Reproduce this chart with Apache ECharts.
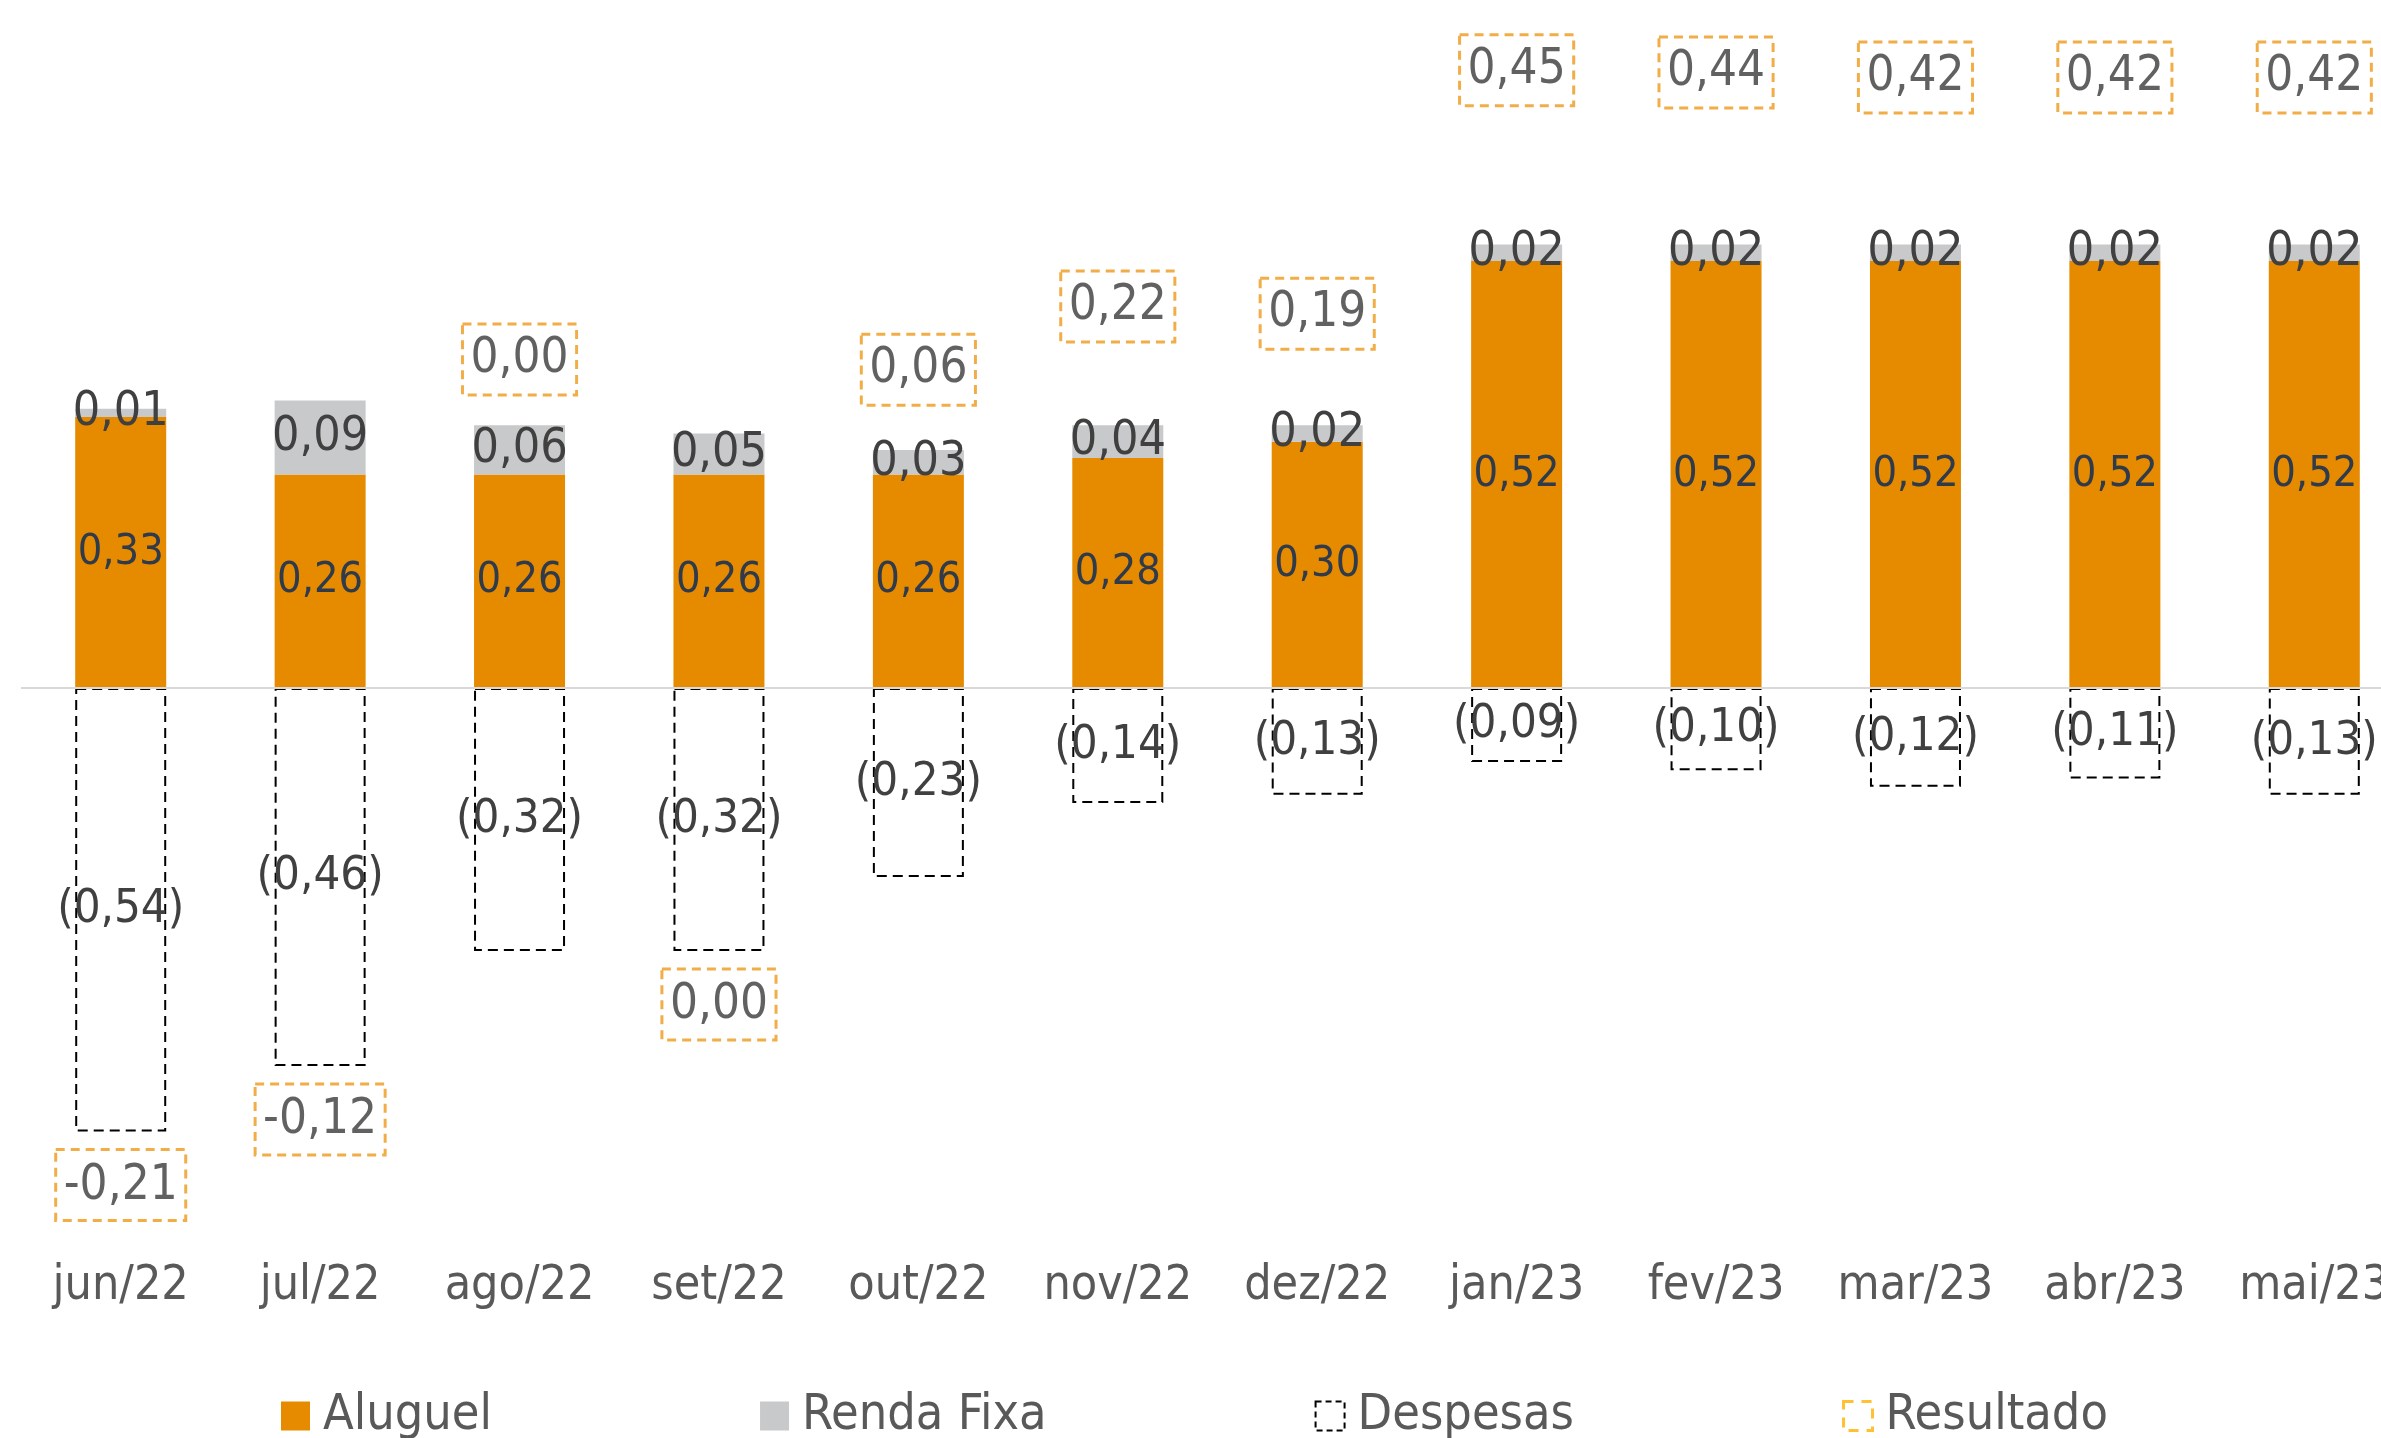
<!DOCTYPE html>
<html>
<head>
<meta charset="utf-8">
<script src="https://cdn.jsdelivr.net/npm/echarts@6/dist/echarts.min.js"></script>
<style>
  html, body { margin: 0; padding: 0; background: #fff; overflow: hidden; }
  /* the plot runs a bit past the right edge, like the original */
  #main { width: 2414px; height: 1438px; }
</style>
</head>
<body>
<div id="main"></div>
<script>
var months = ['jun/22', 'jul/22', 'ago/22', 'set/22', 'out/22', 'nov/22', 'dez/22', 'jan/23', 'fev/23', 'mar/23', 'abr/23', 'mai/23']
var aluguel = [0.33, 0.26, 0.26, 0.26, 0.26, 0.28, 0.30, 0.52, 0.52, 0.52, 0.52, 0.52]
var rendaFixa = [0.01, 0.09, 0.06, 0.05, 0.03, 0.04, 0.02, 0.02, 0.02, 0.02, 0.02, 0.02]
var despesas = [-0.54, -0.46, -0.32, -0.32, -0.23, -0.14, -0.13, -0.09, -0.10, -0.12, -0.11, -0.13]
// set/22 is a tiny negative that shows as 0,00 under the bar
var resultado = [-0.21, -0.12, 0.00, -0.004, 0.06, 0.22, 0.19, 0.45, 0.44, 0.42, 0.42, 0.42]

var font = '"DejaVu Sans Condensed", "DejaVu Sans", sans-serif'
var orange = '#E68A00'
var gray = '#C8C9CA'

var fmt = function (v) {
    var s = Math.abs(v).toFixed(2)
    if (v < 0 && s !== '0.00') s = '-' + s
    return s.replace('.', ',')
}

// where the Resultado box sits: above the positive stack or below Despesas
var resPoints = resultado.map(function (r, i) {
    if (r >= 0) {
        return { value: aluguel[i] + rendaFixa[i] + 0.08 + r / 3.4, label: { position: 'inside' } }
    }
    return { value: despesas[i], label: { position: 'bottom', distance: 18 } }
})

var myChart = echarts.init(document.getElementById('main'))
myChart.setOption({
    animation: false,
    textStyle: { fontFamily: font },
    grid: { left: 21, top: 31, right: 0, height: 1232 },
    legend: {
        left: 276,
        top: 1386,
        itemGap: 268,
        itemWidth: 29,
        itemHeight: 29,
        textStyle: { fontSize: 50, color: '#595959', fontFamily: font, padding: [0, 0, 0, 8] },
        data: [
            { name: 'Aluguel', icon: 'rect' },
            { name: 'Renda Fixa', icon: 'rect' },
            { name: 'Despesas', icon: 'rect', itemStyle: { color: '#fff', borderColor: '#000', borderWidth: 2, borderType: [6, 4] } },
            { name: 'Resultado', icon: 'rect', itemStyle: { color: '#fff', borderColor: '#FFB000', borderWidth: 3, borderType: [10, 8] } }
        ]
    },
    xAxis: {
        type: 'category',
        data: months,
        axisLine: { show: false, onZero: false },
        axisTick: { show: false },
        axisLabel: { interval: 0, fontSize: 48, color: '#595959', margin: 0, fontFamily: font }
    },
    yAxis: {
        type: 'value',
        min: -0.7,
        max: 0.8,
        show: false,
        splitLine: { show: false }
    },
    series: [
        {
            name: 'Aluguel',
            type: 'bar',
            stack: 'total',
            barWidth: 91,
            data: aluguel,
            itemStyle: { color: orange },
            label: {
                show: true,
                position: 'inside',
                fontSize: 43,
                color: '#2F3B4A',
                fontFamily: font,
                formatter: function (p) { return fmt(p.value) }
            },
            markLine: {
                silent: true,
                symbol: 'none',
                label: { show: false },
                lineStyle: { color: '#D9D9D9', width: 2, type: 'solid' },
                data: [{ yAxis: 0 }]
            }
        },
        {
            name: 'Renda Fixa',
            type: 'bar',
            stack: 'total',
            barWidth: 91,
            data: rendaFixa,
            itemStyle: { color: gray },
            label: {
                show: true,
                position: 'inside',
                fontSize: 48,
                color: '#404040',
                fontFamily: font,
                formatter: function (p) { return fmt(p.value) }
            }
        },
        {
            name: 'Despesas',
            type: 'bar',
            stack: 'total',
            barWidth: 91,
            data: despesas,
            itemStyle: {
                color: 'rgba(0,0,0,0)',
                borderColor: '#000',
                borderWidth: 2,
                borderType: [10, 6]
            },
            label: {
                show: true,
                position: 'inside',
                fontSize: 47,
                color: '#404040',
                fontFamily: font,
                formatter: function (p) { return '(' + fmt(-p.value) + ')' }
            }
        },
        {
            name: 'Resultado',
            type: 'scatter',
            symbolSize: 0,
            z: 10,
            data: resPoints,
            itemStyle: { color: '#FFB000' },
            label: {
                show: true,
                fontSize: 49,
                color: '#3A3A3A',
                fontFamily: font,
                borderColor: '#EE9A1A',
                borderWidth: 3,
                borderType: [9, 6],
                padding: [12, 8, 10, 8],
                formatter: function (p) { return fmt(resultado[p.dataIndex]) }
            }
        }
    ]
})
</script>
</body>
</html>
